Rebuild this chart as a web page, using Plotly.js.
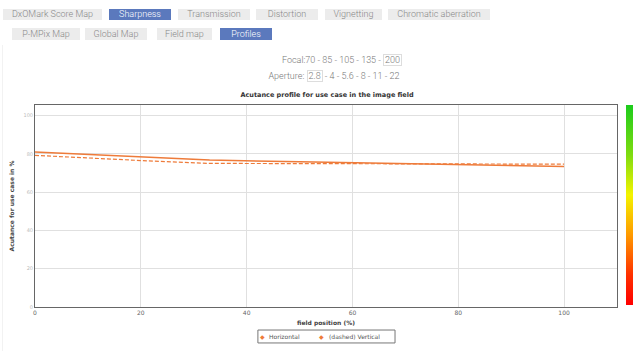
<!DOCTYPE html>
<html>
<head>
<meta charset="utf-8">
<script src="https://cdn.plot.ly/plotly-3.0.1.min.js"></script>
<style>
  html, body { margin: 0; padding: 0; width: 640px; height: 351px; background: #fff; overflow: hidden; font-family: Roboto, "Open Sans", sans-serif; }
  .btn { position: absolute; background: #ececec; color: #888; font-size: 9px; font-weight: 300; text-align: center; box-sizing: border-box; }
  .btn.sel { background: #5b79bd; color: #fff; }
  .sel-row { position: absolute; left: 0; width: 640px; text-align: center; font-size: 9px; color: #777; font-weight: 300; }
  .boxed { border: 1px solid #ddd; padding: 0 1px; }
  #plot { position: absolute; left: 0; top: 85px; width: 640px; height: 266px; }
  #cbar { position: absolute; left: 626px; top: 105px; width: 7px; height: 200px;
    background: linear-gradient(to bottom, #1ccc1c 0%, #7fdc10 25%, #f4f400 45%, #ff9a00 65%, #ff3000 85%, #ff0000 100%); }
  #frame { position: absolute; left: 2px; top: 45px; width: 1px; height: 306px; background: #f2f2f2; }
</style>
</head>
<body>
<div id="frame"></div>
<div class="btn" style="left:3px;top:9px;width:99px;height:11px;line-height:11px;">DxOMark Score Map</div>
<div class="btn sel" style="left:109px;top:9px;width:62px;height:11px;line-height:11px;">Sharpness</div>
<div class="btn" style="left:178px;top:9px;width:72px;height:11px;line-height:11px;">Transmission</div>
<div class="btn" style="left:256px;top:9px;width:62px;height:11px;line-height:11px;">Distortion</div>
<div class="btn" style="left:325px;top:9px;width:57px;height:11px;line-height:11px;">Vignetting</div>
<div class="btn" style="left:388px;top:9px;width:102px;height:11px;line-height:11px;">Chromatic aberration</div>

<div class="btn" style="left:12px;top:28px;width:68px;height:12px;line-height:12px;">P-MPix Map</div>
<div class="btn" style="left:85px;top:28px;width:62px;height:12px;line-height:12px;">Global Map</div>
<div class="btn" style="left:157px;top:28px;width:55px;height:12px;line-height:12px;">Field map</div>
<div class="btn sel" style="left:220px;top:28px;width:52px;height:12px;line-height:12px;">Profiles</div>

<div class="sel-row" style="top:54px;line-height:12px;padding-left:22px;">Focal:70 - 85 - 105 - 135 - <span class="boxed">200</span></div>
<div class="sel-row" style="top:70px;line-height:12px;padding-left:14px;">Aperture: <span class="boxed">2.8</span> - 4 - 5.6 - 8 - 11 - 22</div>

<div id="plot"></div>
<div id="cbar"></div>

<script>
// Data
const fieldPos = [0, 10, 20, 33, 50, 67, 80, 100];
const horizontal = [81.0, 79.8, 78.6, 76.8, 75.8, 75.0, 74.3, 73.4];
const vertical = [79.2, 77.8, 76.5, 75.0, 74.8, 74.7, 74.6, 74.6];
const seriesNames = ["Horizontal", "(dashed) Vertical"];
const xTicks = [0, 20, 40, 60, 80, 100];
const yTicks = [0, 20, 40, 60, 80, 100];

const lineColor = "#ee7b3a";

const traces = [
  { x: fieldPos, y: horizontal, mode: "lines", name: seriesNames[0], line: { color: lineColor, width: 1.5 }, showlegend: false, hoverinfo: "skip" },
  { x: fieldPos, y: vertical, mode: "lines", name: seriesNames[1], line: { color: lineColor, width: 1.2, dash: "4px,2px" }, showlegend: false, hoverinfo: "skip" }
];

// legend drawn as a framed box with symbol + label annotations
const legY = -0.1485;
const layout = {
  width: 640, height: 266,
  margin: { l: 35, r: 23, t: 20, b: 44, autoexpand: false },
  paper_bgcolor: "rgba(0,0,0,0)",
  plot_bgcolor: "#fff",
  font: { family: "DejaVu Sans, Verdana, sans-serif", color: "#444", size: 6 },
  title: { text: "<b>Acutance profile for use case in the image field</b>", x: 0.511, xanchor: "center", y: 0.962, yanchor: "middle", yref: "container", font: { size: 6.5, color: "#333" } },
  xaxis: {
    range: [0, 110], tickvals: xTicks, ticktext: xTicks.map(String),
    showgrid: true, gridcolor: "#e0e0e0", gridwidth: 1, zeroline: false,
    showline: true, linecolor: "#666", linewidth: 1, mirror: true,
    ticks: "", tickfont: { size: 6, color: "#666" }, automargin: false
  },
  yaxis: {
    range: [0, 105.5], tickvals: yTicks, ticktext: yTicks.map(String),
    showgrid: true, gridcolor: "#e0e0e0", gridwidth: 1, zeroline: false,
    showline: true, linecolor: "#666", linewidth: 1, mirror: true,
    ticks: "", tickfont: { size: 5, color: "#bbb" }, automargin: false,
    title: { text: "<b>Acutance for use case in %</b>", font: { size: 6, color: "#444" }, standoff: 8 }
  },
  showlegend: false,
  shapes: [
    { type: "rect", xref: "paper", yref: "paper", x0: 0.383, x1: 0.6186, y0: -0.114, y1: -0.178,
      line: { color: "#777", width: 1 }, fillcolor: "#fff" }
  ],
  annotations: [
    { text: "<b>field position (%)</b>", xref: "paper", yref: "paper", x: 0.5, y: -0.079, xanchor: "center", yanchor: "middle", showarrow: false, font: { size: 6, color: "#444" } },
    { text: "◆", xref: "paper", yref: "paper", x: 0.391, y: legY, xanchor: "center", yanchor: "middle", showarrow: false, font: { size: 6, color: lineColor } },
    { text: seriesNames[0], xref: "paper", yref: "paper", x: 0.399, y: legY, xanchor: "left", yanchor: "middle", showarrow: false, font: { size: 6, color: "#555" } },
    { text: "◆", xref: "paper", yref: "paper", x: 0.4930, y: legY, xanchor: "center", yanchor: "middle", showarrow: false, font: { size: 6, color: lineColor } },
    { text: seriesNames[1], xref: "paper", yref: "paper", x: 0.502, y: legY, xanchor: "left", yanchor: "middle", showarrow: false, font: { size: 6, color: "#555" } }
  ]
};

Plotly.newPlot("plot", traces, layout, { staticPlot: true, displayModeBar: false });
</script>
</body>
</html>
